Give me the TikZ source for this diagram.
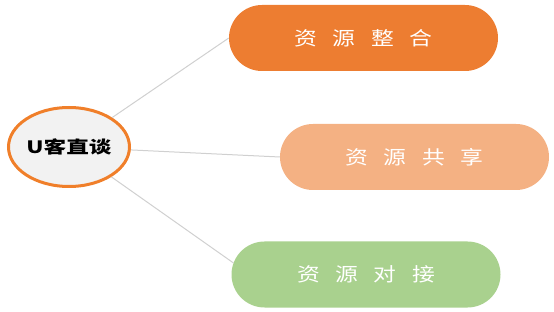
\documentclass[tikz,border=0pt]{standalone}
\usepackage{fontspec}
\usepackage{graphicx}
\newfontfamily\cjk{Noto Sans CJK SC}
\usetikzlibrary{shapes.geometric,shapes.misc}
\definecolor{corange}{HTML}{ED7D31}
\definecolor{cpeach}{HTML}{F4B183}
\definecolor{cgreen}{HTML}{A9D18E}
\definecolor{cfill}{HTML}{F2F2F2}
\definecolor{cborder}{HTML}{F07F2A}
\definecolor{cline}{HTML}{D0D0D0}
\newcommand\pilltext[4]{\scalebox{1.2}[1]{#1\hspace{13pt}#2\hspace{13pt}#3\hspace{13pt}#4}}
\begin{document}
\begin{tikzpicture}[x=1pt,y=-1pt,
  pill/.style={rounded rectangle, inner sep=0pt, minimum width=269pt, minimum height=66pt,
    text=white, font=\cjk\fontsize{19}{19}\selectfont},
  hub/.style={ellipse, draw=cborder, line width=3pt, fill=cfill, minimum width=121pt,
    minimum height=79pt, inner sep=0pt, font=\cjk\bfseries\fontsize{17}{17}\selectfont},
  link/.style={draw=cline, line width=1pt}]
\useasboundingbox (0,0) rectangle (554,312);
\node[pill, fill=corange] (p1) at (363.5,38) {\pilltext{资}{源}{整}{合}};
\node[pill, fill=cpeach] (p2) at (414.5,157) {\pilltext{资}{源}{共}{享}};
\node[pill, fill=cgreen] (p3) at (366,274.5) {\pilltext{资}{源}{对}{接}};
\node[hub] (e) at (69,147) {\scalebox{1.33}[1]{U客直谈}};
\coordinate (c3) at (233.5,263);
\draw[link] (e) -- (p1.west);
\draw[link] (e) -- (p2.west);
\draw[link] (e) -- (c3);
\end{tikzpicture}
\end{document}
